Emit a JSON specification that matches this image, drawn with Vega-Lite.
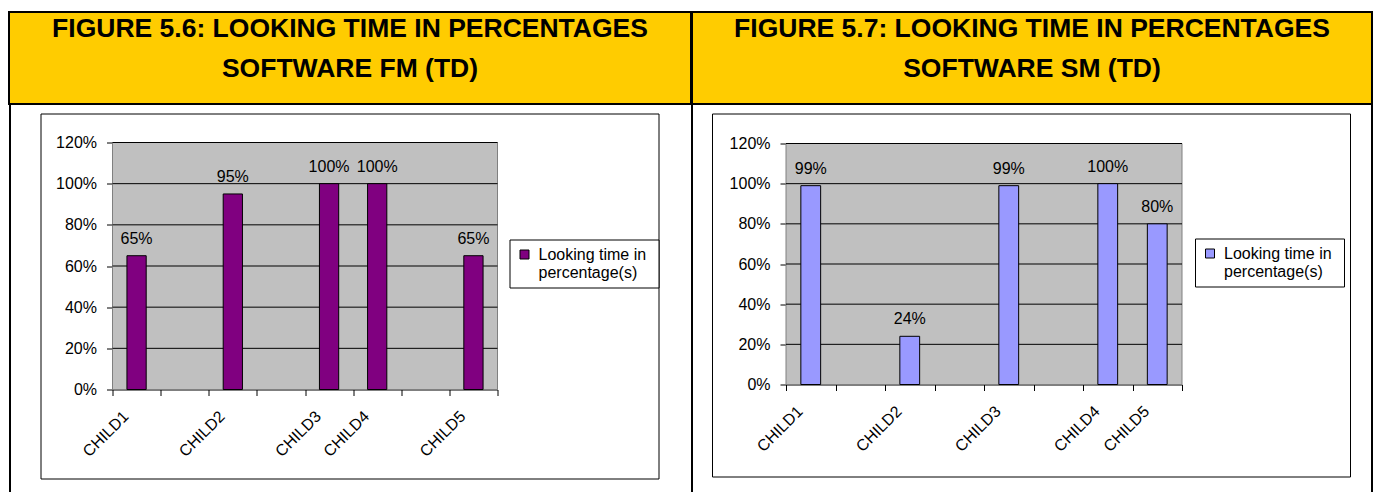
{
  "$schema": "https://vega.github.io/schema/vega-lite/v6.json",
  "padding": {"left": 8, "top": 11, "right": 0, "bottom": 0},
  "background": "white",
  "config": {
    "font": "Liberation Sans",
    "view": {"stroke": null},
    "axis": {"labelFont": "Liberation Sans", "labelColor": "black", "domainColor": "black", "tickColor": "black", "labelFontSize": 16},
    "legend": {"labelFont": "Liberation Sans", "labelColor": "black", "labelFontSize": 16}
  },
  "spacing": -1,
  "resolve": {"scale": {"color": "independent"}, "legend": {"color": "independent"}},
  "vconcat": [
    {
      "spacing": -2,
      "hconcat": [
        {
          "width": 682, "height": 92,
          "view": {"fill": "#FFCC00", "stroke": "black", "strokeWidth": 2},
          "data": {"values": [
            {"line": "FIGURE 5.6: LOOKING TIME IN PERCENTAGES", "row": 1},
            {"line": "SOFTWARE FM (TD)", "row": 2}
          ]},
          "mark": {"type": "text", "font": "Liberation Sans", "fontWeight": "bold", "fontSize": 26.5, "baseline": "alphabetic", "align": "center", "color": "black"},
          "encoding": {
            "y": {"field": "row", "type": "ordinal", "axis": null, "scale": {"type": "point", "range": [25, 65], "padding": 0}},
            "text": {"field": "line", "type": "nominal"}
          }
        },
        {
          "width": 680, "height": 92,
          "view": {"fill": "#FFCC00", "stroke": "black", "strokeWidth": 2},
          "data": {"values": [
            {"line": "FIGURE 5.7: LOOKING TIME IN PERCENTAGES", "row": 1},
            {"line": "SOFTWARE SM (TD)", "row": 2}
          ]},
          "mark": {"type": "text", "font": "Liberation Sans", "fontWeight": "bold", "fontSize": 26.5, "baseline": "alphabetic", "align": "center", "color": "black"},
          "encoding": {
            "y": {"field": "row", "type": "ordinal", "axis": null, "scale": {"type": "point", "range": [25, 65], "padding": 0}},
            "text": {"field": "line", "type": "nominal"}
          }
        }
      ]
    },
    {
      "spacing": 0,
      "resolve": {"scale": {"color": "independent"}, "legend": {"color": "independent"}},
      "hconcat": [
        {
          "spacing": 22.5,
          "resolve": {"scale": {"color": "independent"}, "legend": {"color": "independent"}},
          "hconcat": [
            {"width": 2, "height": 400, "view": {"fill": "black", "stroke": null}, "data": {"values": []}, "mark": "point"},
            {
              "spacing": 6.5,
              "resolve": {"scale": {"color": "independent"}, "legend": {"color": "independent"}},
              "vconcat": [
                {"width": 650, "height": 1, "data": {"values": []}, "mark": "point"},
                {
                  "width": 618, "height": 365,
                  "view": {"fill": "white", "stroke": "black", "strokeWidth": 1},
                  "resolve": {"scale": {"x": "independent"}, "axis": {"x": "independent", "y": "independent"}},
                  "layer": [
                    {
                      "data": {"values": [{}]},
                      "layer": [
                        {"mark": {"type": "rect", "fill": "#C0C0C0", "stroke": "#808080", "strokeWidth": 1},
                         "encoding": {
                           "x": {"datum": 0, "type": "quantitative", "scale": {"domain": [0, 1], "range": [72, 457], "nice": false}, "axis": null},
                           "x2": {"datum": 1},
                           "y": {"datum": 0, "type": "quantitative", "scale": {"domain": [0, 1.2], "range": [276, 29], "nice": false}, "axis": null},
                           "y2": {"datum": 1.2}
                         }},
                        {"mark": {"type": "rule", "color": "black", "strokeWidth": 1}, "encoding": {"x": {"datum": 0, "type": "quantitative", "axis": null}, "x2": {"datum": 1}, "y": {"datum": 0.2, "type": "quantitative", "axis": null}}},
                        {"mark": {"type": "rule", "color": "black", "strokeWidth": 1}, "encoding": {"x": {"datum": 0, "type": "quantitative", "axis": null}, "x2": {"datum": 1}, "y": {"datum": 0.4, "type": "quantitative", "axis": null}}},
                        {"mark": {"type": "rule", "color": "black", "strokeWidth": 1}, "encoding": {"x": {"datum": 0, "type": "quantitative", "axis": null}, "x2": {"datum": 1}, "y": {"datum": 0.6, "type": "quantitative", "axis": null}}},
                        {"mark": {"type": "rule", "color": "black", "strokeWidth": 1}, "encoding": {"x": {"datum": 0, "type": "quantitative", "axis": null}, "x2": {"datum": 1}, "y": {"datum": 0.8, "type": "quantitative", "axis": null}}},
                        {"mark": {"type": "rule", "color": "black", "strokeWidth": 1}, "encoding": {"x": {"datum": 0, "type": "quantitative", "axis": null}, "x2": {"datum": 1}, "y": {"datum": 1.0, "type": "quantitative", "axis": null}}},
                        {"mark": {"type": "rule", "color": "black", "strokeWidth": 1}, "encoding": {"x": {"datum": 0, "type": "quantitative", "axis": null}, "x2": {"datum": 1}, "y": {"datum": 1.2, "type": "quantitative", "axis": null}}}
                      ]
                    },
                    {
                      "data": {"values": [
                        {"child": "CHILD1", "value": 0.65},
                        {"child": "CHILD2", "value": 0.95},
                        {"child": "CHILD3", "value": 1.0},
                        {"child": "CHILD4", "value": 1.0},
                        {"child": "CHILD5", "value": 0.65}
                      ]},
                      "encoding": {
                        "x": {"field": "child", "type": "nominal", "sort": null,
                              "scale": {"type": "band", "domain": ["CHILD1", " ", "CHILD2", "  ", "CHILD3", "CHILD4", "   ", "CHILD5"], "range": [72, 457], "paddingInner": 0, "paddingOuter": 0},
                              "axis": {"title": null, "orient": "bottom", "offset": -89, "tickBand": "extent", "labelAngle": -45, "labelAlign": "right", "labelBaseline": "middle", "tickSize": 6, "labelPadding": 18, "labelOffset": -11, "grid": false, "labelFontSize": 16}},
                        "y": {"field": "value", "type": "quantitative",
                              "scale": {"domain": [0, 1.2], "range": [276, 29], "nice": false},
                              "axis": {"title": null, "orient": "left", "offset": -72, "values": [0, 0.2, 0.4, 0.6, 0.8, 1.0, 1.2], "format": ".0%", "grid": false, "tickSize": 6, "labelPadding": 10, "labelFontSize": 16}}
                      },
                      "layer": [
                        {"mark": {"type": "bar", "stroke": "black", "strokeWidth": 1, "width": {"band": 0.4}},
                         "encoding": {
                           "color": {"datum": "Looking time  in percentage(s)", "type": "nominal", "scale": {"range": ["#800080"]},
                                     "legend": {"title": null, "orient": "none", "legendX": 469, "legendY": 126, "strokeColor": "black", "fillColor": "white", "padding": 7, "symbolType": "square", "symbolSize": 81, "symbolStrokeColor": "black", "symbolStrokeWidth": 1, "labelFontSize": 16, "labelExpr": "['Looking time  in', 'percentage(s)']", "labelOffset": 6, "cornerRadius": 0}}
                         }},
                        {"mark": {"type": "text", "dy": -12, "baseline": "alphabetic", "fontSize": 16, "color": "black"},
                         "encoding": {"text": {"field": "value", "type": "quantitative", "format": ".0%"}}}
                      ]
                    }
                  ]
                }
              ]
            }
          ]
        },
        {
          "spacing": 12,
          "resolve": {"scale": {"color": "independent"}, "legend": {"color": "independent"}},
          "hconcat": [
            {"width": 2, "height": 400, "view": {"fill": "black", "stroke": null}, "data": {"values": []}, "mark": "point"},
            {
              "spacing": 6.5,
              "resolve": {"scale": {"color": "independent"}, "legend": {"color": "independent"}},
              "vconcat": [
                {"width": 658.5, "height": 1, "data": {"values": []}, "mark": "point"},
                {
                  "width": 638, "height": 363,
                  "view": {"fill": "white", "stroke": "black", "strokeWidth": 1},
                  "resolve": {"scale": {"x": "independent"}, "axis": {"x": "independent", "y": "independent"}},
                  "layer": [
                    {
                      "data": {"values": [{}]},
                      "layer": [
                        {"mark": {"type": "rect", "fill": "#C0C0C0", "stroke": "#808080", "strokeWidth": 1},
                         "encoding": {
                           "x": {"datum": 0, "type": "quantitative", "scale": {"domain": [0, 1], "range": [74, 470], "nice": false}, "axis": null},
                           "x2": {"datum": 1},
                           "y": {"datum": 0, "type": "quantitative", "scale": {"domain": [0, 1.2], "range": [271, 30], "nice": false}, "axis": null},
                           "y2": {"datum": 1.2}
                         }},
                        {"mark": {"type": "rule", "color": "black", "strokeWidth": 1}, "encoding": {"x": {"datum": 0, "type": "quantitative", "axis": null}, "x2": {"datum": 1}, "y": {"datum": 0.2, "type": "quantitative", "axis": null}}},
                        {"mark": {"type": "rule", "color": "black", "strokeWidth": 1}, "encoding": {"x": {"datum": 0, "type": "quantitative", "axis": null}, "x2": {"datum": 1}, "y": {"datum": 0.4, "type": "quantitative", "axis": null}}},
                        {"mark": {"type": "rule", "color": "black", "strokeWidth": 1}, "encoding": {"x": {"datum": 0, "type": "quantitative", "axis": null}, "x2": {"datum": 1}, "y": {"datum": 0.6, "type": "quantitative", "axis": null}}},
                        {"mark": {"type": "rule", "color": "black", "strokeWidth": 1}, "encoding": {"x": {"datum": 0, "type": "quantitative", "axis": null}, "x2": {"datum": 1}, "y": {"datum": 0.8, "type": "quantitative", "axis": null}}},
                        {"mark": {"type": "rule", "color": "black", "strokeWidth": 1}, "encoding": {"x": {"datum": 0, "type": "quantitative", "axis": null}, "x2": {"datum": 1}, "y": {"datum": 1.0, "type": "quantitative", "axis": null}}},
                        {"mark": {"type": "rule", "color": "black", "strokeWidth": 1}, "encoding": {"x": {"datum": 0, "type": "quantitative", "axis": null}, "x2": {"datum": 1}, "y": {"datum": 1.2, "type": "quantitative", "axis": null}}}
                      ]
                    },
                    {
                      "data": {"values": [
                        {"child": "CHILD1", "value": 0.99},
                        {"child": "CHILD2", "value": 0.24},
                        {"child": "CHILD3", "value": 0.99},
                        {"child": "CHILD4", "value": 1.0},
                        {"child": "CHILD5", "value": 0.8}
                      ]},
                      "encoding": {
                        "x": {"field": "child", "type": "nominal", "sort": null,
                              "scale": {"type": "band", "domain": ["CHILD1", " ", "CHILD2", "  ", "CHILD3", "   ", "CHILD4", "CHILD5"], "range": [74, 470], "paddingInner": 0, "paddingOuter": 0},
                              "axis": {"title": null, "orient": "bottom", "offset": -92, "tickBand": "extent", "labelAngle": -45, "labelAlign": "right", "labelBaseline": "middle", "tickSize": 6, "labelPadding": 18, "labelOffset": -11, "grid": false, "labelFontSize": 16}},
                        "y": {"field": "value", "type": "quantitative",
                              "scale": {"domain": [0, 1.2], "range": [271, 30], "nice": false},
                              "axis": {"title": null, "orient": "left", "offset": -74, "values": [0, 0.2, 0.4, 0.6, 0.8, 1.0, 1.2], "format": ".0%", "grid": false, "tickSize": 6, "labelPadding": 10, "labelFontSize": 16}}
                      },
                      "layer": [
                        {"mark": {"type": "bar", "stroke": "black", "strokeWidth": 1, "width": {"band": 0.4}},
                         "encoding": {
                           "color": {"datum": "Looking time  in percentage(s)", "type": "nominal", "scale": {"range": ["#9999FF"]},
                                     "legend": {"title": null, "orient": "none", "legendX": 483, "legendY": 125, "strokeColor": "black", "fillColor": "white", "padding": 7, "symbolType": "square", "symbolSize": 81, "symbolStrokeColor": "black", "symbolStrokeWidth": 1, "labelFontSize": 16, "labelExpr": "['Looking time  in', 'percentage(s)']", "labelOffset": 6, "cornerRadius": 0}}
                         }},
                        {"mark": {"type": "text", "dy": -12, "baseline": "alphabetic", "fontSize": 16, "color": "black"},
                         "encoding": {"text": {"field": "value", "type": "quantitative", "format": ".0%"}}}
                      ]
                    }
                  ]
                }
              ]
            }
          ]
        },
        {"width": 2, "height": 400, "view": {"fill": "black", "stroke": null}, "data": {"values": []}, "mark": "point"}
      ]
    }
  ]
}
